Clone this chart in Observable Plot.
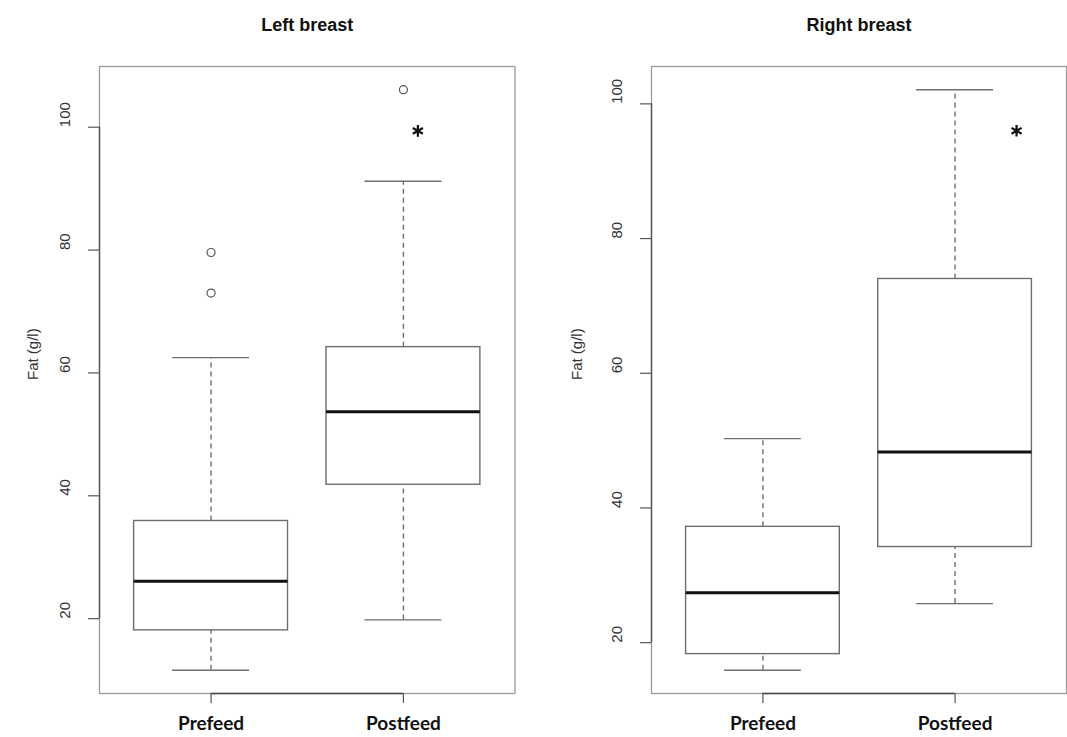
<!DOCTYPE html>
<html><head><meta charset="utf-8">
<script src="https://cdn.jsdelivr.net/npm/d3@7"></script>
<script src="https://cdn.jsdelivr.net/npm/@observablehq/plot@0.6"></script>
<style>
html,body{margin:0;padding:0;background:#fff;}
#wrap{display:flex;width:1067px;height:737px;overflow:hidden;}
#wrap svg{flex:none;display:block;}
</style></head><body><div id="wrap"></div>
<script>
const categories = ["Prefeed", "Postfeed"];
const panelTitles = ["Left breast", "Right breast"];
const yTicks = [20, 40, 60, 80, 100];
const yLabel = "Fat (g/l)";
// [lower whisker, Q1, median, Q3, upper whisker]
const leftPrefeed = [11.6, 18.1, 26.1, 35.9, 62.5];
const leftPostfeed = [19.8, 41.8, 53.7, 64.2, 91.2];
const rightPrefeed = [15.9, 18.3, 27.4, 37.2, 50.3];
const rightPostfeed = [25.8, 34.2, 48.3, 74.0, 102.1];
const leftOutliers = [
  {group: "Prefeed", value: 73.0},
  {group: "Prefeed", value: 79.6},
  {group: "Postfeed", value: 106.1}
];
const rightOutliers = [];
// significance asterisks (x in group units)
const leftSig = [{x: 2.075, y: 99.4}];
const rightSig = [{x: 2.32, y: 96.0}];

function panel(title, stats, outliers, sig, width, marginRight, yLabelOffset) {
  const rows = stats.map((s, i) => ({group: categories[i], pos: i + 1, lo: s[0], q1: s[1], med: s[2], q3: s[3], hi: s[4]}));
  const outs = outliers.map(o => ({...o, pos: categories.indexOf(o.group) + 1}));
  const all = rows.flatMap(r => [r.lo, r.hi]).concat(outs.map(o => o.value));
  const mn = d3.min(all), mx = d3.max(all), pad = 0.04 * (mx - mn);
  const xDom = [0.5 - 0.04 * categories.length, categories.length + 0.5 + 0.04 * categories.length];
  const yDom = [mn - pad, mx + pad];
  const grey = "#6e6e6e";
  return Plot.plot({
    width, height: 737,
    marginLeft: 99, marginRight, marginTop: 66, marginBottom: 44,
    x: {domain: xDom, axis: null},
    y: {domain: yDom, axis: null},
    style: {fontFamily: "Liberation Sans, Arial, sans-serif", background: "white", overflow: "visible"},
    marks: [
      Plot.frame({stroke: "#9a9a9a", strokeWidth: 1.3}),
      // whiskers
      Plot.ruleX(rows, {x: "pos", y1: "q3", y2: "hi", stroke: grey, strokeWidth: 1.4, strokeDasharray: "5,4"}),
      Plot.ruleX(rows, {x: "pos", y1: "lo", y2: "q1", stroke: grey, strokeWidth: 1.4, strokeDasharray: "5,4"}),
      Plot.ruleY(rows, {y: "hi", x1: d => d.pos - 0.2, x2: d => d.pos + 0.2, stroke: grey, strokeWidth: 1.4}),
      Plot.ruleY(rows, {y: "lo", x1: d => d.pos - 0.2, x2: d => d.pos + 0.2, stroke: grey, strokeWidth: 1.4}),
      // boxes
      Plot.rect(rows, {x1: d => d.pos - 0.4, x2: d => d.pos + 0.4, y1: "q1", y2: "q3", fill: "white", stroke: grey, strokeWidth: 1.4}),
      Plot.ruleY(rows, {y: "med", x1: d => d.pos - 0.4, x2: d => d.pos + 0.4, stroke: "#111", strokeWidth: 3}),
      // outliers
      Plot.dot(outs, {x: "pos", y: "value", r: 4, stroke: "#555", strokeWidth: 1.2, fill: "none"}),
      // asterisks
      Plot.dot(sig, {x: "x", y: "y", symbol: "asterisk", r: 5.5, stroke: "#111", strokeWidth: 2.2}),
      // y axis
      Plot.ruleX([xDom[0]], {y1: d3.min(yTicks), y2: d3.max(yTicks), stroke: "#555", strokeWidth: 1.4}),
      Plot.axisY({ticks: yTicks, tickSize: 11, tickFormat: () => "", stroke: "#555", strokeWidth: 1.2}),
      Plot.text(yTicks, {y: d => d, text: d => String(d), frameAnchor: "left", dx: -34, rotate: -90, fontSize: 15, fill: "#333"}),
      Plot.text([yLabel], {frameAnchor: "left", dx: -yLabelOffset, rotate: -90, fontSize: 15, fill: "#333"}),
      // x axis
      Plot.ruleY([yDom[0]], {x1: 1, x2: categories.length, stroke: "#444", strokeWidth: 1.6}),
      Plot.axisX({ticks: rows.map(r => r.pos), tickSize: 10, tickFormat: () => "", stroke: "#555", strokeWidth: 1.2}),
      Plot.text(rows, {x: "pos", text: "group", frameAnchor: "bottom", dy: 36, fontSize: 19, fontWeight: "bold", fontFamily: "Lato, Open Sans, sans-serif", fill: "#111"}),
      // title
      Plot.text([title], {frameAnchor: "top", dy: -48, fontSize: 18, fontWeight: "bold", fill: "#111"})
    ]
  });
}

const wrap = document.getElementById("wrap");
wrap.append(panel(panelTitles[0], [leftPrefeed, leftPostfeed], leftOutliers, leftSig, 552, 37.5, 66));
wrap.append(panel(panelTitles[1], [rightPrefeed, rightPostfeed], rightOutliers, rightSig, 515, 1, 74));
</script></body></html>
